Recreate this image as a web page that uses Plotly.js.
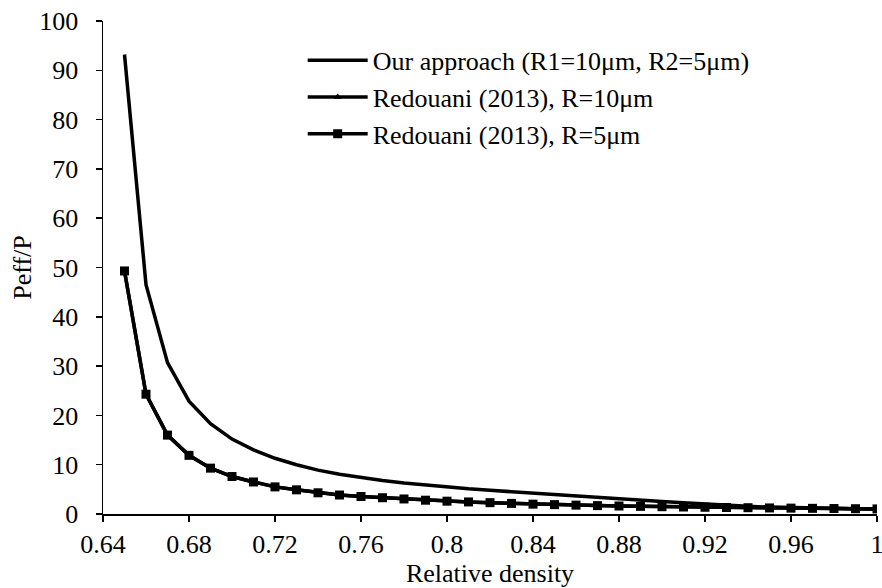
<!DOCTYPE html>
<html>
<head>
<meta charset="utf-8">
<script src="https://cdn.plot.ly/plotly-3.0.1.min.js"></script>
<style>
html,body{margin:0;padding:0;background:#fff;}
#chart{width:882px;height:588px;}
</style>
</head>
<body>
<div id="chart"></div>
<script>
// Relative density values (x)
var density = [0.65,0.66,0.67,0.68,0.69,0.70,0.71,0.72,0.73,0.74,0.75,0.76,0.77,0.78,0.79,0.80,0.81,0.82,
               0.83,0.84,0.85,0.86,0.87,0.88,0.89,0.90,0.91,0.92,0.93,0.94,0.95,0.96,0.97,0.98,0.99,1.00];

// Our approach (R1=10um, R2=5um)
var ourApproach = [93.2,46.5,30.7,22.9,18.3,15.2,13.0,11.3,10.0,8.9,8.05,7.35,6.8,6.3,5.85,5.45,5.1,4.8,
                   4.5,4.22,3.95,3.68,3.4,3.12,2.84,2.56,2.28,2.0,1.75,1.55,1.4,1.28,1.18,1.1,1.04,1.0];

// Redouani (2013), R=10um
var redouaniR10 = [49.3,24.3,16.0,11.9,9.3,7.6,6.5,5.5,4.9,4.3,3.85,3.55,3.3,3.05,2.8,2.6,2.45,2.3,
                   2.15,2.0,1.9,1.8,1.7,1.62,1.55,1.48,1.42,1.37,1.32,1.28,1.23,1.19,1.15,1.11,1.07,1.03];

// Redouani (2013), R=5um
var redouaniR5 = [49.3,24.3,16.0,11.9,9.3,7.6,6.5,5.5,4.9,4.3,3.85,3.55,3.3,3.05,2.8,2.6,2.45,2.3,
                  2.15,2.0,1.9,1.8,1.7,1.62,1.55,1.48,1.42,1.37,1.32,1.28,1.23,1.19,1.15,1.11,1.07,1.03];

var seriesNames = ["Our approach (R1=10\u03bcm, R2=5\u03bcm)",
                   "Redouani (2013), R=10\u03bcm",
                   "Redouani (2013), R=5\u03bcm"];

var xTickVals = [0.64,0.68,0.72,0.76,0.80,0.84,0.88,0.92,0.96,1.00];
var xTickText = ["0.64","0.68","0.72","0.76","0.8","0.84","0.88","0.92","0.96","1"];
var yTickVals = [0,10,20,30,40,50,60,70,80,90,100];

var FONT = "Liberation Serif, Times New Roman, serif";
var FS = 26;

var traces = [
  {x: density, y: ourApproach, name: seriesNames[0], type: "scatter", mode: "lines",
   line: {color: "#000", width: 3.5}},
  {x: density, y: redouaniR10, name: seriesNames[1], type: "scatter", mode: "lines+markers",
   line: {color: "#000", width: 3.5}, marker: {symbol: "triangle-up", size: 7, color: "#000"}},
  {x: density, y: redouaniR5, name: seriesNames[2], type: "scatter", mode: "lines+markers",
   line: {color: "#000", width: 3.5}, marker: {symbol: "square", size: 9, color: "#000"}}
];

var layout = {
  width: 882, height: 588,
  margin: {l: 103, r: 5, t: 21, b: 74},
  paper_bgcolor: "#fff", plot_bgcolor: "#fff",
  font: {family: FONT, size: FS, color: "#000"},
  showlegend: true,
  legend: {x: 0.258, y: 0.968, xanchor: "left", yanchor: "top", bgcolor: "rgba(0,0,0,0)",
           font: {family: FONT, size: FS, color: "#000"}, itemwidth: 60, traceorder: "normal"},
  xaxis: {range: [0.64, 1.0], tickmode: "array", tickvals: xTickVals, ticktext: xTickText,
          showgrid: false, zeroline: false, showline: true, linecolor: "#000", linewidth: 1.5,
          ticks: "outside", ticklen: 6, tickwidth: 1.5, tickcolor: "#000", ticklabeloverflow: "allow",
          tickfont: {family: FONT, size: FS, color: "#000"},
          title: {text: "Relative density", font: {family: FONT, size: FS, color: "#000"}, standoff: 3}},
  yaxis: {range: [0, 100], tickmode: "array", tickvals: yTickVals,
          showgrid: false, zeroline: false, showline: true, linecolor: "#000", linewidth: 1.5,
          ticks: "outside", ticklen: 6, tickwidth: 1.5, tickcolor: "#000", ticklabelstandoff: 12,
          tickfont: {family: FONT, size: FS, color: "#000"},
          title: {text: "Peff/P", font: {family: FONT, size: FS, color: "#000"}, standoff: 0}}
};

Plotly.newPlot("chart", traces, layout, {displayModeBar: false, staticPlot: true});
</script>
</body>
</html>
